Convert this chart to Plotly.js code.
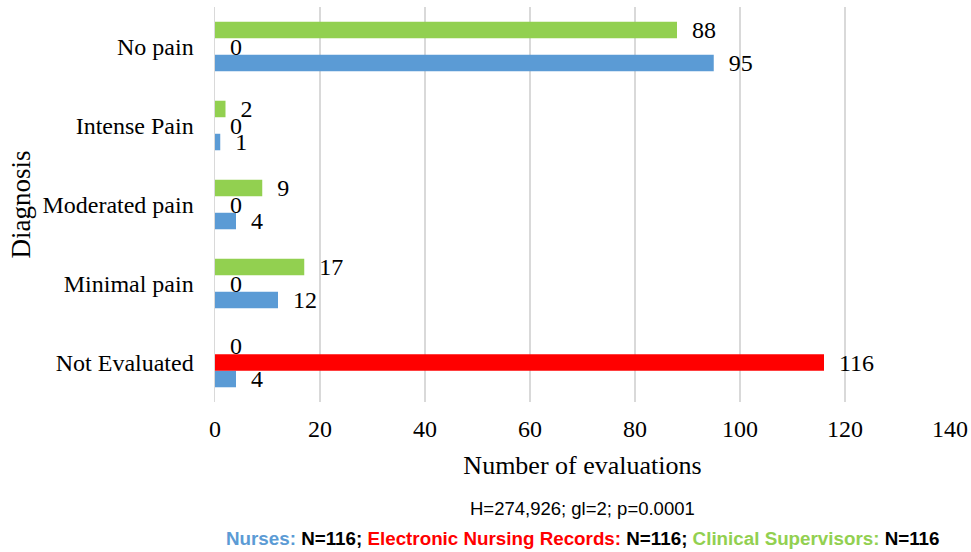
<!DOCTYPE html>
<html>
<head>
<meta charset="utf-8">
<script src="https://cdn.plot.ly/plotly-3.0.1.min.js"></script>
<style>html,body{margin:0;padding:0;background:#fff;}</style>
</head>
<body>
<div id="chart" style="width:971px;height:552px;"></div>
<script>
const categories = ['Not Evaluated', 'Minimal pain', 'Moderated pain', 'Intense Pain', 'No pain'];
const nurses = [4, 12, 4, 1, 95];
const electronicRecords = [116, 0, 0, 0, 0];
const clinicalSupervisors = [0, 17, 9, 2, 88];
const xTicks = [0, 20, 40, 60, 80, 100, 120, 140];

const serif = 'Liberation Serif, Times New Roman, serif';
const labelFont = {family: serif, size: 24, color: '#000'};
function series(name, values, color) {
  return {
    type: 'bar', orientation: 'h', name: name,
    x: values, y: categories,
    marker: {color: color},
    text: values.map(String),
    texttemplate: '\u00a0\u00a0%{x}',
    textposition: 'outside',
    constraintext: 'none',
    cliponaxis: false,
    textfont: labelFont,
    hoverinfo: 'x+y'
  };
}
const data = [
  series('Nurses', nurses, '#5B9BD5'),
  series('Electronic Nursing Records', electronicRecords, '#FF0000'),
  series('Clinical Supervisors', clinicalSupervisors, '#92D050')
];
const layout = {
  width: 971, height: 552,
  margin: {l: 215, r: 21, t: 7, b: 150},
  barmode: 'group', bargap: 0.373, bargroupgap: 0,
  showlegend: false,
  plot_bgcolor: '#fff', paper_bgcolor: '#fff',
  font: labelFont,
  xaxis: {
    range: [0, 140], tickvals: xTicks, ticktext: xTicks.map(String),
    showgrid: true, gridcolor: '#d9d9d9', gridwidth: 1.5,
    zeroline: false, showline: false, ticks: '',
    ticklabelstandoff: 10,
    tickfont: labelFont,
    title: {text: 'Number of evaluations', font: {family: serif, size: 26, color: '#000'}, standoff: 14}
  },
  yaxis: {
    type: 'category', categoryorder: 'array', categoryarray: categories,
    showgrid: false, zeroline: false, showline: true, linecolor: '#d9d9d9', linewidth: 1.5,
    ticks: 'outside', ticklen: 15, tickcolor: 'rgba(0,0,0,0)',
    tickfont: labelFont,
    title: {text: 'Diagnosis', font: {family: serif, size: 27, color: '#000'}, standoff: 4}
  },
  annotations: [
    {xref: 'paper', yref: 'paper', x: 0.5, y: -0.27, xanchor: 'center', yanchor: 'middle', showarrow: false,
     text: 'H=274,926; gl=2; p=0.0001',
     font: {family: 'Liberation Sans, Arial, sans-serif', size: 18.5, color: '#000'}},
    {xref: 'paper', yref: 'paper', x: 0.5, y: -0.345, xanchor: 'center', yanchor: 'middle', showarrow: false,
     text: '<b><span style="color:#5B9BD5">Nurses:</span> N=116; <span style="color:#FF0000">Electronic Nursing Records:</span> N=116; <span style="color:#92D050">Clinical Supervisors:</span> N=116</b>',
     font: {family: 'Liberation Sans, Arial, sans-serif', size: 18.8, color: '#000'}}
  ]
};
Plotly.newPlot('chart', data, layout, {displayModeBar: false, staticPlot: true});
</script>
</body>
</html>
